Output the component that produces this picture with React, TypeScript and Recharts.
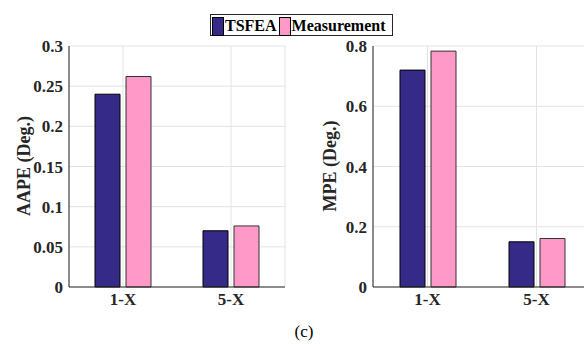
import React from 'react';
import { BarChart, Bar, XAxis, YAxis, CartesianGrid } from 'recharts';

const CATEGORIES = ['1-X', '5-X'];
const AAPE_TSFEA = [0.24, 0.07];
const AAPE_MEAS = [0.262, 0.076];
const MPE_TSFEA = [0.72, 0.15];
const MPE_MEAS = [0.783, 0.161];
const AAPE_TICKS = [0, 0.05, 0.1, 0.15, 0.2, 0.25, 0.3];
const MPE_TICKS = [0, 0.2, 0.4, 0.6, 0.8];

const FONT = '"Liberation Serif", "Times New Roman", serif';
const DARK = '#262626';
const C_TSFEA = '#352a87';
const C_MEAS = '#ff99c8';

const aapeData = CATEGORIES.map((name, i) => ({ name, tsfea: AAPE_TSFEA[i], meas: AAPE_MEAS[i] }));
const mpeData = CATEGORIES.map((name, i) => ({ name, tsfea: MPE_TSFEA[i], meas: MPE_MEAS[i] }));

const tickStyle = { fill: DARK, fontSize: 17, fontWeight: 700, fontFamily: FONT };

type PanelProps = {
  data: { name: string; tsfea: number; meas: number }[];
  ticks: number[];
  margin: { top: number; right: number; bottom: number; left: number };
};

const Panel: React.FC<PanelProps> = ({ data, ticks, margin }) => {
  const max = ticks[ticks.length - 1];
  return (
    <BarChart width={300} height={344} data={data} margin={margin} barSize={25} barGap={6}>
      <CartesianGrid stroke="#e3e3e3" strokeWidth={1} />
      <XAxis
        dataKey="name"
        height={30}
        tick={tickStyle}
        tickLine={false}
        tickSize={4}
        tickMargin={2}
        axisLine={{ stroke: DARK }}
      />
      <XAxis xAxisId="top" dataKey="name" orientation="top" height={0} tick={false} tickLine={false} axisLine={{ stroke: DARK }} />
      <YAxis
        width={60}
        domain={[0, max]}
        ticks={ticks}
        tick={tickStyle}
        tickLine={false}
        tickSize={4}
        tickMargin={2}
        tickFormatter={(v: number) => String(v)}
        axisLine={{ stroke: DARK }}
        interval={0}
      />
      <YAxis yAxisId="right" orientation="right" width={0} domain={[0, max]} tick={false} tickLine={false} axisLine={{ stroke: DARK }} />
      <Bar dataKey="tsfea" fill={C_TSFEA} stroke="#000" strokeWidth={1} isAnimationActive={false} />
      <Bar dataKey="meas" fill={C_MEAS} stroke="#333" strokeWidth={1} isAnimationActive={false} />
    </BarChart>
  );
};

const rotated = (cx: number, cy: number): React.CSSProperties => ({
  position: 'absolute',
  left: cx,
  top: cy,
  transform: 'translate(-50%, -50%) rotate(-90deg)',
  whiteSpace: 'nowrap',
  fontFamily: FONT,
  fontWeight: 700,
  fontSize: 18,
  color: DARK,
});

const swatch = (color: string): React.CSSProperties => ({
  display: 'inline-block',
  width: 10,
  height: 17,
  background: color,
  border: '1px solid #000',
  marginRight: 1,
  verticalAlign: 'middle',
});

export default function App() {
  return (
    <div style={{ position: 'absolute', left: 0, top: 0, width: 584, height: 344, overflow: 'hidden', background: '#fff' }}>
      <div style={{ position: 'absolute', left: 0, top: 0 }}>
        <Panel data={aapeData} ticks={AAPE_TICKS} margin={{ top: 46, right: 15, bottom: 27, left: 9 }} />
      </div>
      <div style={{ position: 'absolute', left: 300, top: 0 }}>
        <Panel data={mpeData} ticks={MPE_TICKS} margin={{ top: 46, right: 9, bottom: 27, left: 13 }} />
      </div>
      <div style={rotated(24, 166)}>AAPE (Deg.)</div>
      <div style={rotated(330, 166)}>MPE (Deg.)</div>
      <div
        style={{
          position: 'absolute',
          left: 210,
          top: 14,
          width: 180,
          height: 20,
          border: '1px solid #262626',
          background: '#fff',
          fontFamily: FONT,
          fontWeight: 700,
          fontSize: 16,
          color: '#000',
          lineHeight: '20px',
          whiteSpace: 'nowrap',
          paddingLeft: 1,
        }}
      >
        <span style={swatch(C_TSFEA)} />
        <span style={{ verticalAlign: 'middle', marginRight: 2 }}>TSFEA</span>
        <span style={swatch(C_MEAS)} />
        <span style={{ verticalAlign: 'middle' }}>Measurement</span>
      </div>
      <div
        style={{
          position: 'absolute',
          left: 304,
          top: 332,
          transform: 'translate(-50%, -50%)',
          fontFamily: FONT,
          fontSize: 17,
          color: '#000',
        }}
      >
        (c)
      </div>
    </div>
  );
}
